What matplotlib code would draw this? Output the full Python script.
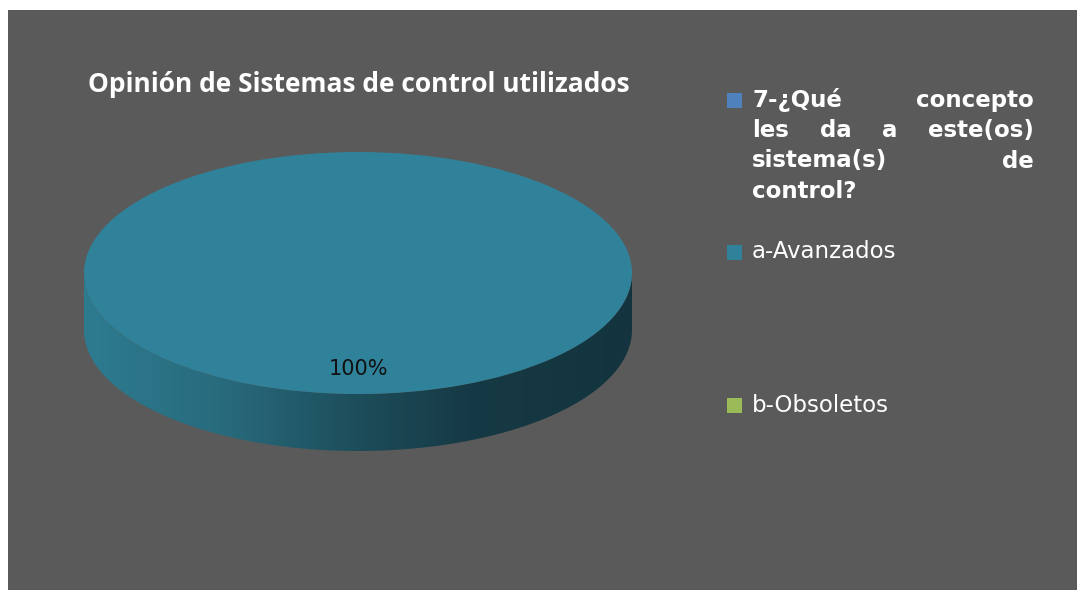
import matplotlib
matplotlib.use("Agg")
import matplotlib.pyplot as plt
import numpy as np
from matplotlib.patches import Rectangle, Polygon
from matplotlib.colors import LinearSegmentedColormap

# ---- data ----
title = "Opinión de Sistemas de control utilizados"
categories = ["7-¿Qué concepto les da a este(os) sistema(s) de control?",
              "a-Avanzados", "b-Obsoletos"]
values = [0, 100, 0]
colors = ["#4f81bd", "#30829a", "#9bbb59"]

W, H = 1077, 590
fig = plt.figure(figsize=(W / 100, H / 100), dpi=100, facecolor="white")

# background overlay axes in pixel coords
bg = fig.add_axes([0, 0, 1, 1], zorder=0)
bg.set_xlim(0, W)
bg.set_ylim(H, 0)
bg.axis("off")
bg.add_patch(Rectangle((8, 10), W - 8, H - 10, facecolor="#5a5a5a", edgecolor="none"))

# ---- pie axes: unit circle mapped onto the ellipse ----
cx, cy, a, b = 358, 273, 274, 121
depth = 57 / b
xl = (-1.2, 1.2)
yl = (-1.8, 1.2)
pw = (xl[1] - xl[0]) * a
ph = (yl[1] - yl[0]) * b
left_px = cx + xl[0] * a
top_px = cy - yl[1] * b
ax = fig.add_axes([left_px / W, (H - (top_px + ph)) / H, pw / W, ph / H], zorder=1)
ax.patch.set_alpha(0)


def pct(p):
    return "%1.0f%%" % p if p > 0.5 else ""


wedges, texts, autotexts = ax.pie(values, colors=colors, startangle=90,
                                  counterclock=False, autopct=pct,
                                  pctdistance=0.79, radius=1,
                                  wedgeprops=dict(linewidth=0, zorder=3))
for t in autotexts:
    t.set_fontsize(15)
    t.set_color("#111111")
    t.set_zorder(5)
ax.set_aspect("auto")
ax.set_xlim(*xl)
ax.set_ylim(*yl)
ax.axis("off")

# side of the 3D pie (front half)
t = np.linspace(np.pi, 2 * np.pi, 300)
xs = np.cos(t)
ys = np.sin(t)
poly_xy = np.concatenate([np.column_stack([xs, ys]),
                          np.column_stack([xs[::-1], ys[::-1] - depth])])
side = Polygon(poly_xy, closed=True, facecolor="none", edgecolor="none")
ax.add_patch(side)
cmap = LinearSegmentedColormap.from_list(
    "side", [(0.0, "#2e7b8f"), (0.25, "#286b7d"), (0.5, "#1d4d5a"),
             (0.7, "#163a45"), (1.0, "#13343e")])
grad = np.linspace(0, 1, 256).reshape(1, -1)
im = ax.imshow(grad, cmap=cmap, extent=(-1, 1, -1 - depth, 0.05),
               aspect="auto", zorder=2, interpolation="bilinear")
im.set_clip_path(side)
ax.set_xlim(*xl)
ax.set_ylim(*yl)

# ---- title ----
bg.text(88, 85, title, fontsize=19, fontweight="bold", color="white",
        family="Open Sans", va="center", ha="left", zorder=5)

# ---- legend (manual, justified first entry) ----
fig.canvas.draw()
renderer = fig.canvas.get_renderer()
x0, x1 = 752, 1034
sq = 15
q_lines = [["7-¿Qué", "concepto"], ["les", "da", "a", "este(os)"],
           ["sistema(s)", "de"], ["control?"]]
q_y0, q_dy = 100, 30.5
qfont = dict(fontsize=16.5, fontweight="bold", color="white",
             family="DejaVu Sans", va="center", ha="left", zorder=5)


def text_w(s, **kw):
    tt = bg.text(0, 0, s, **kw)
    bb = tt.get_window_extent(renderer)
    tt.remove()
    return bb.width


for i, words in enumerate(q_lines):
    y = q_y0 + i * q_dy
    if i == len(q_lines) - 1 or len(words) == 1:
        bg.text(x0, y, " ".join(words), **qfont)
        continue
    ws = [text_w(w, **qfont) for w in words]
    gap = (x1 - x0 - sum(ws)) / (len(words) - 1)
    x = x0
    for w, wd in zip(words, ws):
        bg.text(x, y, w, **qfont)
        x += wd + gap

entry_y = [100, 252, 405]
for i, (lab, wdg) in enumerate(zip(categories, wedges)):
    y = entry_y[i]
    bg.add_patch(Rectangle((727, y - sq / 2), sq, sq,
                           facecolor=wdg.get_facecolor(), edgecolor="none", zorder=5))
    if i > 0:
        bg.text(x0, y, lab, fontsize=16.5, color="white", family="DejaVu Sans",
                va="center", ha="left", zorder=5)

fig.savefig("out.png", dpi=100, facecolor="white")
